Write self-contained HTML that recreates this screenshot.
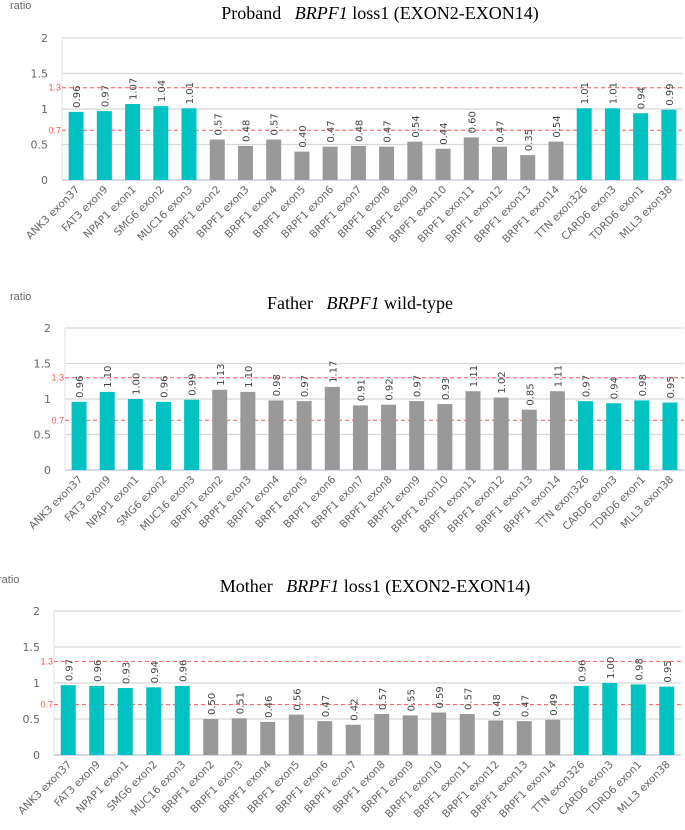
<!DOCTYPE html>
<html><head><meta charset="utf-8"><title>BRPF1 ratio charts</title>
<style>
html,body{margin:0;padding:0;background:#fff;}
svg{display:block;}
</style></head>
<body>
<svg id="fig" width="685" height="830" viewBox="0 0 685 830" xmlns="http://www.w3.org/2000/svg"></svg>
<script>
const categories = ["ANK3 exon37","FAT3 exon9","NPAP1 exon1","SMG6 exon2","MUC16 exon3","BRPF1 exon2","BRPF1 exon3","BRPF1 exon4","BRPF1 exon5","BRPF1 exon6","BRPF1 exon7","BRPF1 exon8","BRPF1 exon9","BRPF1 exon10","BRPF1 exon11","BRPF1 exon12","BRPF1 exon13","BRPF1 exon14","TTN exon326","CARD6 exon3","TDRD6 exon1","MLL3 exon38"];
const probandValues = [0.96,0.97,1.07,1.04,1.01,0.57,0.48,0.57,0.40,0.47,0.48,0.47,0.54,0.44,0.60,0.47,0.35,0.54,1.01,1.01,0.94,0.99];
const fatherValues = [0.96,1.10,1.00,0.96,0.99,1.13,1.10,0.98,0.97,1.17,0.91,0.92,0.97,0.93,1.11,1.02,0.85,1.11,0.97,0.94,0.98,0.95];
const motherValues = [0.97,0.96,0.93,0.94,0.96,0.50,0.51,0.46,0.56,0.47,0.42,0.57,0.55,0.59,0.57,0.48,0.47,0.49,0.96,1.00,0.98,0.95];
const yTicks = [0,0.5,1,1.5,2];
const yTickLabels = ["0","0.5","1","1.5","2"];
const thresholds = [1.3,0.7];
const thresholdLabels = ["1.3","0.7"];
const isControl = [1,1,1,1,1,0,0,0,0,0,0,0,0,0,0,0,0,0,1,1,1,1];

const NS="http://www.w3.org/2000/svg";
const svg=document.getElementById('fig');
function mk(tag,attrs,parent){const e=document.createElementNS(NS,tag);for(const k in attrs)e.setAttribute(k,attrs[k]);(parent||svg).appendChild(e);return e;}

const panels=[
 {key:"proband",values:probandValues,left:62,right:683,top:38,bottom:180,title:["Proband ","BRPF1"," loss1 (EXON2-EXON14)"],titleX:380,titleY:19,ratioY:9},
 {key:"father",values:fatherValues,left:65,right:684,top:328,bottom:470,title:["Father ","BRPF1"," wild-type"],titleX:360,titleY:309,ratioY:300},
 {key:"mother",values:motherValues,left:54,right:681,top:611,bottom:755,title:["Mother ","BRPF1"," loss1 (EXON2-EXON14)"],titleX:375,titleY:592,ratioY:583}
];

panels.forEach(p=>{
  const g=mk('g',{});
  
  
  const n=categories.length;
  const band=(p.right-p.left)/n;
  const xc=i=>p.left+band*(i+0.5);
  const y=v=>p.bottom-(v/2)*(p.bottom-p.top);
  const rl=mk('text',{x:p.key==='mother'?-2:10,y:p.ratioY,'font-family':'Liberation Sans, sans-serif','font-size':'11',fill:'#666'},g);
  rl.textContent='ratio';
  
  
  const t=mk('text',{x:p.titleX,y:p.titleY,'text-anchor':'middle','font-family':'Liberation Serif, serif','font-size':'18',fill:'#000'},g);
  
  
  const s1=mk('tspan',{},t);s1.textContent=p.title[0]+'\u00a0\u00a0';
  const s2=mk('tspan',{'font-style':'italic'},t);s2.textContent=p.title[1];
  const s3=mk('tspan',{},t);s3.textContent=p.title[2];
  yTicks.forEach((v,i)=>{
    const yy=y(v);
    if(v>0){const gl=mk('line',{x1:p.left,x2:p.right,y1:yy,y2:yy,stroke:'#d8d8d8','stroke-width':'1.2'},g);
      
      }
    const tl=mk('text',{x:p.left-14,y:yy+4,'text-anchor':'end','font-family':'DejaVu Sans, sans-serif','font-size':'11',fill:'#666'},g);
    tl.textContent=yTickLabels[i];
    
    
  });
  const ax=mk('line',{x1:p.left,x2:p.left,y1:p.top,y2:p.bottom,stroke:'#dde0ea','stroke-width':'1'},g);
  
  
  const bx=mk('line',{x1:p.left,x2:p.right,y1:p.bottom,y2:p.bottom,stroke:'#c8cde0','stroke-width':'1.5'},g);
  
  
  thresholds.forEach((v,i)=>{
    const yy=y(v);
    const l=mk('line',{x1:p.left,x2:p.right,y1:yy,y2:yy,stroke:'#ff5555','stroke-width':'1','stroke-dasharray':'4,3'},g);
    
    
    const tl=mk('text',{x:p.left-1,y:yy+3,'text-anchor':'end','font-family':'Liberation Sans, sans-serif','font-size':'9',fill:'#ff5555'},g);
    tl.textContent=thresholdLabels[i];
    
    
  });
  p.values.forEach((v,i)=>{
    const cx=xc(i);const yy=y(v);const w=15;
    const r=mk('rect',{x:cx-w/2,y:yy,width:w,height:p.bottom-yy,fill:isControl[i]?'#00c2c2':'#999999'},g);
    
    
    const vl=mk('text',{x:0,y:0,transform:`translate(${cx+4},${yy-4}) rotate(-90)`,'font-family':'DejaVu Sans, sans-serif','font-size':'10',fill:'#444'},g);
    vl.textContent=v.toFixed(2);
    
    
    const cl=mk('text',{x:0,y:0,transform:`translate(${cx+4},${p.bottom+10}) rotate(-45)`,'text-anchor':'end','font-family':'DejaVu Sans, sans-serif','font-size':'10.5',fill:'#666'},g);
    cl.textContent=categories[i];
    
    
  });
});
</script>
</body></html>
